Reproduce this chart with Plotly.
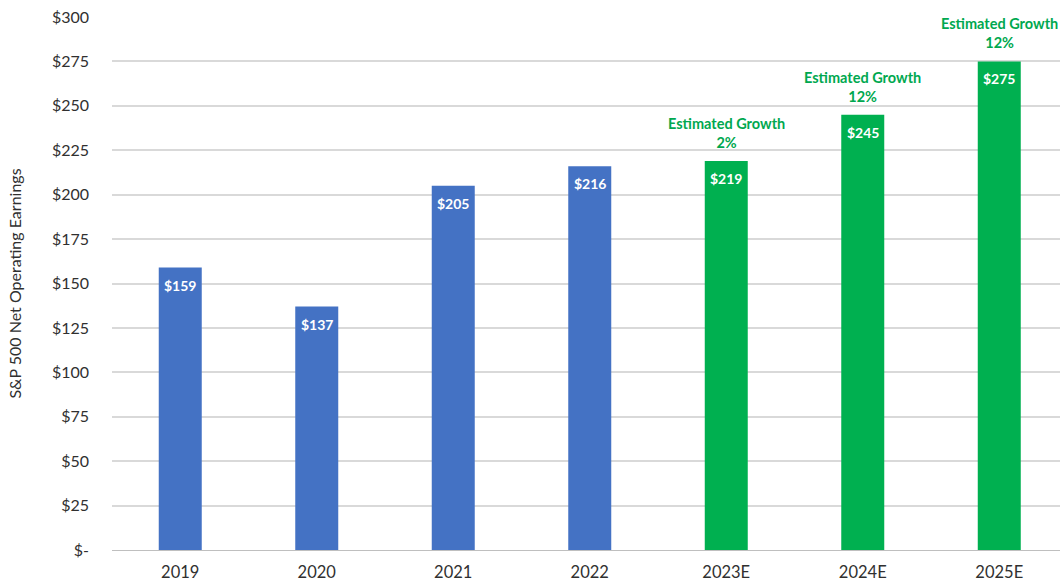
import plotly.graph_objects as go

categories = ["2019", "2020", "2021", "2022", "2023E", "2024E", "2025E"]
earnings = [159, 137, 205, 216, 219, 245, 275]
bar_colors = ["#4472C4", "#4472C4", "#4472C4", "#4472C4", "#00B050", "#00B050", "#00B050"]
growth_cats = ["2023E", "2024E", "2025E"]
growth_vals = [219, 245, 275]
growth_pct = ["2%", "12%", "12%"]
tick_vals = [0, 25, 50, 75, 100, 125, 150, 175, 200, 225, 250, 275, 300]
tick_text = ["$-", "$25", "$50", "$75", "$100", "$125", "$150", "$175", "$200", "$225", "$250", "$275", "$300"]

FONT = "Lato, 'Open Sans', sans-serif"

fig = go.Figure()
fig.add_trace(go.Bar(
    x=categories, y=earnings,
    marker=dict(color=bar_colors, line=dict(width=0)),
    width=0.315,
    hoverinfo="x+y",
))

# value labels (category index positions on the category axis)
for i, v in enumerate(earnings):
    fig.add_annotation(
        x=i, y=v, text=f"${v}",
        showarrow=False, yanchor="top", yshift=-7,
        font=dict(color="white", size=14, family=FONT, weight="bold"),
    )

for c, v, p in zip(growth_cats, growth_vals, growth_pct):
    fig.add_annotation(
        x=categories.index(c), y=v, text=f"Estimated Growth<br>{p}",
        showarrow=False, yanchor="bottom", yshift=8,
        font=dict(color="#00A84F", size=14.5, family=FONT, weight="bold"),
    )

fig.update_layout(
    width=1060, height=588,
    margin=dict(l=112, r=0, t=17, b=38),
    paper_bgcolor="white", plot_bgcolor="white",
    showlegend=False,
    font=dict(family=FONT, color="#404040"),
    xaxis=dict(
        type="category",
        range=[-0.5, 6.445],
        tickfont=dict(size=16.5, color="#303030"),
        showgrid=False, zeroline=False,
        showline=True, linecolor="#BFBFBF", linewidth=1,
        ticks="", ticklabelstandoff=7,
    ),
    yaxis=dict(
        range=[0, 300],
        tickvals=tick_vals, ticktext=tick_text,
        tickfont=dict(size=16, color="#303030"),
        showgrid=True, gridcolor="#D9D9D9", gridwidth=1.5,
        zeroline=False, showline=False, ticks="",
        ticklabelstandoff=22,
        title=dict(text="S&P 500 Net Operating Earnings",
                   font=dict(size=16, color="#303030"), standoff=26),
    ),
)

fig.write_html("out.html")
